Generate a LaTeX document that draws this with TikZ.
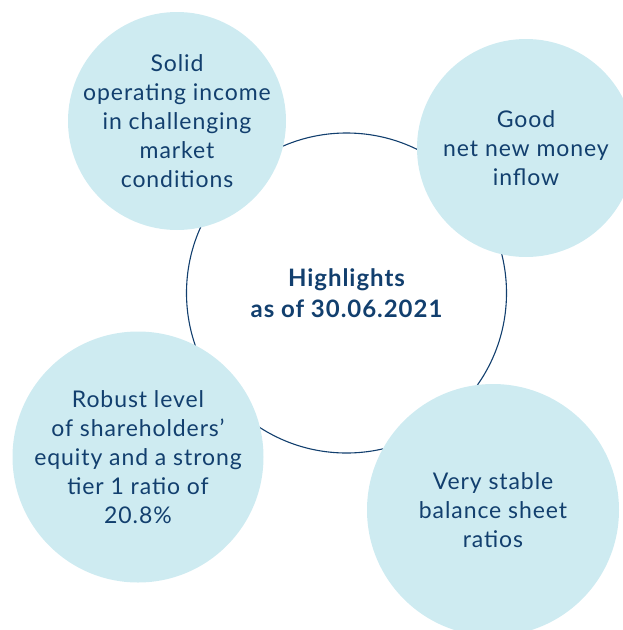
\documentclass[tikz,border=0pt]{standalone}
\usepackage{fontspec}
\setmainfont{Lato}[LetterSpace=4]
\definecolor{navy}{HTML}{123F6E}
\definecolor{paleblue}{HTML}{CEEBF1}
\tikzset{
    bubble/.style={circle, fill=paleblue, inner sep=0pt},
    blurb/.style={text=navy, align=center, inner sep=0pt,
        font=\fontsize{23}{29}\selectfont},
    hub/.style={circle, draw=navy, line width=1.1pt, text=navy, align=center,
        font=\fontsize{24}{31}\selectfont\bfseries}
}
\begin{document}
\begin{tikzpicture}[x=1pt, y=-1pt]
            \useasboundingbox (0,0) rectangle (623,630);
            \clip (0,0) rectangle (623,630);
            \node[hub, minimum size=320pt] (hl) at (346.5,293)
                {Highlights\\as of 30.06.2021};
            % bubbles
            \node[bubble, minimum size=218pt] (income) at (177,121) {};
            \node[bubble, minimum size=218pt] (inflow) at (526,148) {};
            \node[bubble, minimum size=251pt] (equity) at (138,457) {};
            \node[bubble, minimum size=252pt] (ratios) at (493,510) {};
            % texts
            \node[blurb] (incometext) at (income)
                {Solid\\operating income\\in challenging\\market\\conditions};
            \node[blurb] (inflowtext) at (inflow)
                {Good\\net new money\\inflow};
            \node[blurb] (equitytext) at (equity)
                {Robust level\\of shareholders'\\equity and a strong\\tier 1 ratio of\\20.8\%};
            \node[blurb] (ratiostext) at (ratios)
                {Very stable\\balance sheet\\ratios};
        \end{tikzpicture}
\end{document}
